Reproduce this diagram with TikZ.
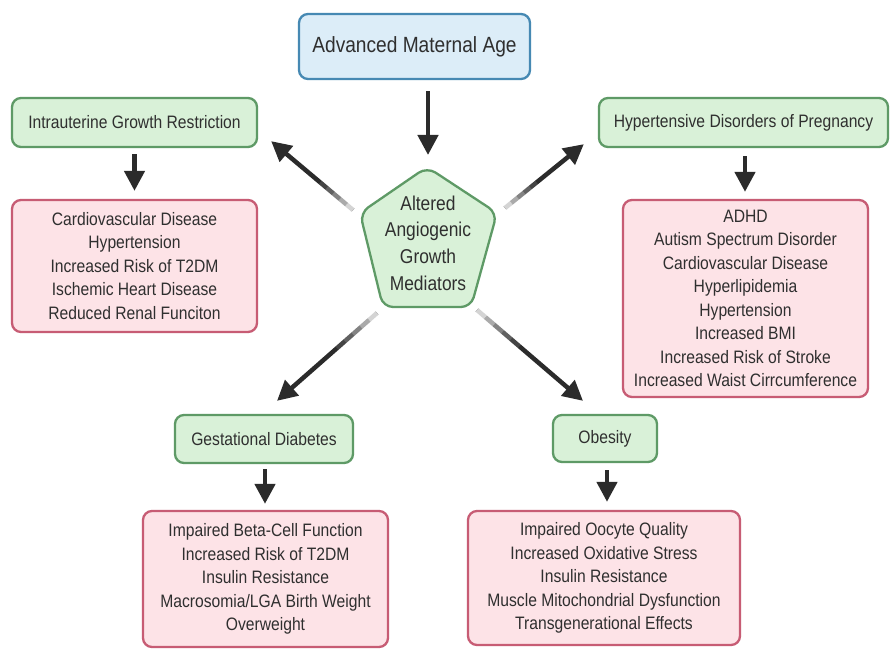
\documentclass[tikz,border=0pt]{standalone}
\usepackage{fontspec}
\setmainfont{Liberation Sans}[FakeStretch=0.87]
\usetikzlibrary{arrows.meta,calc}
\definecolor{txt}{HTML}{2F2F2F}
\definecolor{gfill}{HTML}{D9F1D8}
\definecolor{gdraw}{HTML}{5E9A66}
\definecolor{rfill}{HTML}{FDE3E7}
\definecolor{rdraw}{HTML}{C75C74}
\definecolor{bfill}{HTML}{DCEDF8}
\definecolor{bdraw}{HTML}{4689B3}
\definecolor{arr}{HTML}{2B2B2B}
\begin{document}
\begin{tikzpicture}[x=1pt,y=-1pt,
  box/.style={rounded corners=9pt, line width=2.3pt, inner sep=0pt, align=center, text=txt},
  greenbox/.style={box, fill=gfill, draw=gdraw},
  redbox/.style={box, fill=rfill, draw=rdraw},
  bluebox/.style={box, fill=bfill, draw=bdraw},
  lbl/.style={font=\fontsize{18}{22}\selectfont},
  lst/.style={font=\fontsize{18}{23.5}\selectfont},
  bigarrow/.style={draw=arr, line width=4.5pt, -{Triangle[length=20pt,width=20pt]}},
  fadeseg/.style={draw=white, line width=6pt}
]
\path[fill=white] (0,0) rectangle (890,652);
\useasboundingbox (0,0) rectangle (890,652);

% top
\node[bluebox, minimum width=231pt, minimum height=65pt, font=\fontsize{22}{26}\selectfont] (ama) at (414.5,46.5) {Advanced Maternal Age};

% pentagon
\coordinate (pc) at (428,243);
\draw[fill=gfill, draw=gdraw, line width=2.3pt, rounded corners=10pt]
  ($(pc)+(-1,-76)$) -- ($(pc)+(69,-30)$) -- ($(pc)+(43,64)$) -- ($(pc)+(-45,64)$) -- ($(pc)+(-68,-30)$) -- cycle;
\node[text=txt, align=center, inner sep=0pt, font=\fontsize{20}{26.7}\selectfont] (pent) at (pc) {Altered\\Angiogenic\\Growth\\Mediators};

% boxes
\node[greenbox, lbl, minimum width=245pt, minimum height=49pt] (iugr) at (134.5,122.5) {Intrauterine Growth Restriction};
\node[redbox, lst, minimum width=245pt, minimum height=132pt] (iugrL) at (134.5,266) {Cardiovascular Disease\\Hypertension\\Increased Risk of T2DM\\Ischemic Heart Disease\\Reduced Renal Funciton};

\node[greenbox, lbl, minimum width=289pt, minimum height=49pt] (hdp) at (743.5,122.5) {Hypertensive Disorders of Pregnancy};
\node[redbox, lst, minimum width=245pt, minimum height=197pt] (hdpL) at (745.5,298.5) {ADHD\\Autism Spectrum Disorder\\Cardiovascular Disease\\Hyperlipidemia\\Hypertension\\Increased BMI\\Increased Risk of Stroke\\Increased Waist Cirrcumference};

\node[greenbox, lbl, minimum width=178pt, minimum height=48pt] (gd) at (264,439) {Gestational Diabetes};
\node[redbox, lst, minimum width=245pt, minimum height=136pt] (gdL) at (265.5,579) {Impaired Beta-Cell Function\\Increased Risk of T2DM\\Insulin Resistance\\Macrosomia/LGA Birth Weight\\Overweight};

\node[greenbox, lbl, minimum width=104pt, minimum height=47pt] (ob) at (605,438.5) {Obesity};
\node[redbox, lst, minimum width=272pt, minimum height=134pt] (obL) at (604,578) {Impaired Oocyte Quality\\Increased Oxidative Stress\\Insulin Resistance\\Muscle Mitochondrial Dysfunction\\Transgenerational Effects};

% vertical arrows
\draw[bigarrow] ($(ama.south)+(13.5,11)$) -- ($(pent)+(0,-88)$);
\draw[bigarrow] ($(iugr.south)+(0,6)$) -- ($(iugrL.north)+(0,-8)$);
\draw[bigarrow] ($(hdp.south)+(1.5,8)$) -- ($(hdpL.north)+(-0.5,-7)$);
\draw[bigarrow] ($(gd.south)+(1,5)$) -- ($(gdL.north)+(-0.5,-6)$);
\draw[bigarrow] ($(ob.south)+(2,7)$) -- ($(obL.north)+(3,-8)$);

% diagonal arrows with fading tails
\coordinate (s1) at ($(pent)+(-75,-33)$); \coordinate (e1) at ($(iugr.south east)+(13,-7)$);
\coordinate (s2) at ($(pent)+(77,-35)$);  \coordinate (e2) at ($(hdp.south west)+(-14,-4)$);
\coordinate (s3) at ($(pent)+(-51,70)$);  \coordinate (e3) at ($(gd.north)+(13,-13)$);
\coordinate (s4) at ($(pent)+(49,67)$);   \coordinate (e4) at ($(ob.north)+(-22,-13)$);
\draw[bigarrow] (s1) -- (e1);
\draw[bigarrow] (s2) -- (e2);
\draw[bigarrow] (s3) -- (e3);
\draw[bigarrow] (s4) -- (e4);
\foreach \s/\e in {s1/e1,s2/e2,s3/e3,s4/e4}{
  \foreach \a/\b/\o in {0/0.08/0.8,0.08/0.16/0.6,0.16/0.24/0.42,0.24/0.32/0.26,0.32/0.40/0.12}{
    \draw[fadeseg, opacity=\o] ($(\s)!\a!(\e)$) -- ($(\s)!\b!(\e)$);
  }
}
\end{tikzpicture}
\end{document}
